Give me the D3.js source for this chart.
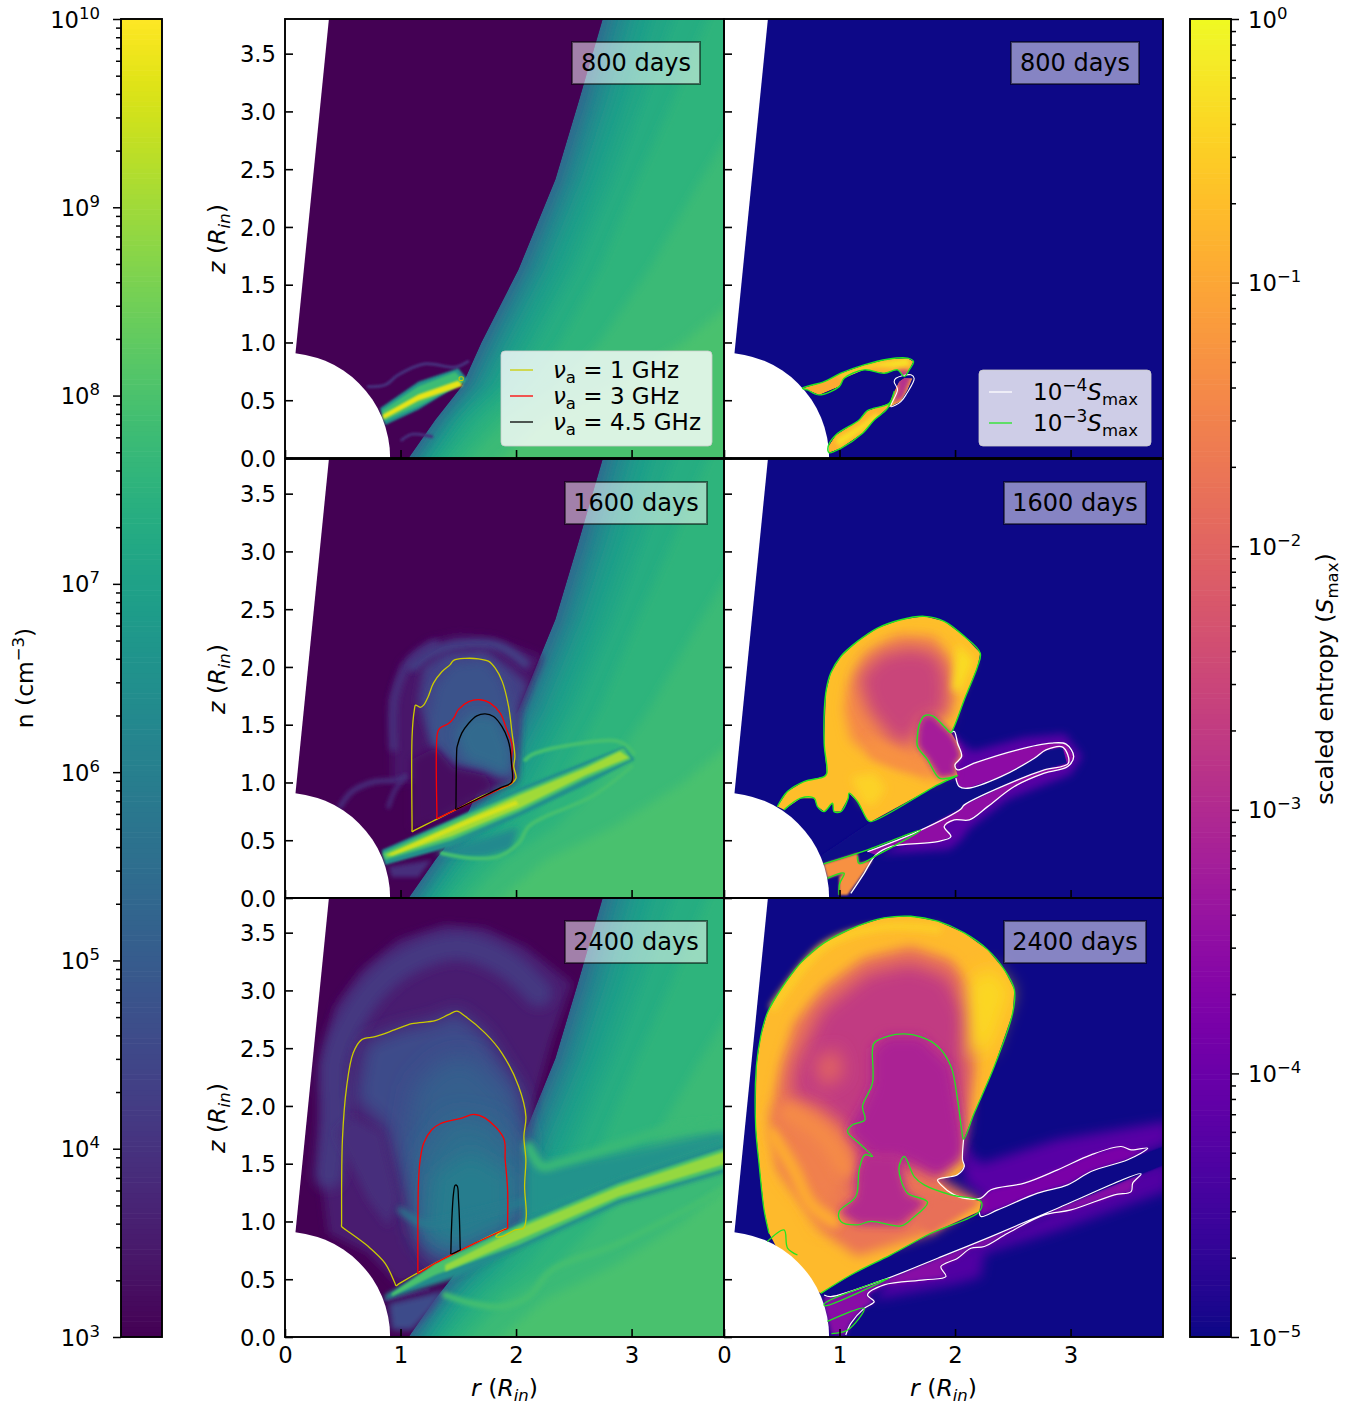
<!DOCTYPE html>
<html><head><meta charset="utf-8">
<script src="https://cdn.jsdelivr.net/npm/d3@7"></script>
<style>html,body{margin:0;background:#fff}svg{display:block}text{font-family:"DejaVu Sans";fill:#000}</style>
</head><body><svg id="c" width="1364" height="1408"></svg>
<script>
// ---------- labels and ticks ----------
const days=["800 days","1600 days","2400 days"];
const rTicks=[0,1,2,3];
const zTicks=[0,0.5,1,1.5,2,2.5,3,3.5];
const nDecades=[3,4,5,6,7,8,9,10];
const sDecades=[-5,-4,-3,-2,-1,0];
// ---------- shared geometry ----------
const innerRadius=0.91, polarSlope=0.1;
const ambientEdge=[[1.07,0],[1.30,.33],[1.53,.62],[1.70,1.0],[2.02,1.63],[2.34,2.41],[2.54,3.08],[2.75,3.8],[3.9,3.9],[3.9,-.1],[1.07,-.1]];
const ambientZ=[-.1,.33,.62,1,1.63,2.41,3.08,3.9];
const ambientLevels=[
 [5.8,[1.06,1.34,1.57,1.75,2.07,2.39,2.59,2.80]],
 [6.2,[1.10,1.38,1.62,1.80,2.12,2.44,2.65,2.87]],
 [6.6,[1.14,1.43,1.68,1.87,2.20,2.52,2.73,2.96]],
 [6.9,[1.18,1.48,1.75,1.95,2.28,2.60,2.82,3.06]],
 [7.15,[1.24,1.54,1.84,2.06,2.40,2.72,2.95,3.2]],
 [7.35,[1.30,1.62,1.94,2.18,2.52,2.85,3.1,3.4]],
 [7.55,[1.38,1.74,2.1,2.38,2.72,3.05,3.35,3.7]],
 [7.75,[1.5,1.9,2.35,2.72,3.15,3.6,4.0,4.5]],
 [7.95,[1.75,2.25,2.85,3.45,4.2,5.0,5.6,6.2]]
];
// ---------- 800 days, density ----------
const n1JetOuter=[[.823,.43],[1.155,.66],[1.5,.777],[1.58,.68],[1.155,.42],[.867,.286]];
const n1JetMid=[[.838,.41],[1.155,.62],[1.473,.745],[1.56,.66],[1.155,.45],[.86,.32]];
const n1JetCore=[[.843,.375],[1.155,.55],[1.50,.67],[1.54,.625],[1.155,.495],[.855,.335]];
const n1ArcUp=[[.722,.618],[.867,.633],[.982,.72],[1.213,.815],[1.473,.786],[1.583,.835]];
const n1ArcLow=[[1.01,.156],[1.1,.205],[1.27,.185]];
const nu1Dot=[[1.51,.70],[1.54,.70],[1.54,.675],[1.51,.675]];
// ---------- 1600 days, density ----------
const n2Shell=[[.93,.994],[.918,1.716],[1.011,2.033],[1.242,2.221],[1.5,2.279],[1.79,2.25],[2.022,2.163],[2.224,2.09],[2.022,1.6],[1.99,1.02],[1.473,.763],[1.27,.676],[1.155,1.02]];
const n2Ring=[[1.15,1.7],[1.2,2.0],[1.386,2.12],[1.733,2.14],[1.96,1.98],[2.1,1.85],[2.02,1.6],[1.99,1.02],[1.73,1.1],[1.3,1.3]];
const n2ArcC=[[.94,1.3],[.95,1.75],[1.1,2.07],[1.3,2.2]];
const n2ArcD=[[1.11,2.0],[1.27,2.12],[1.5,2.19],[1.85,2.18],[2.08,2.03]];
const n2Inner=[[1.242,1.54],[1.3,1.83],[1.444,2.033],[1.733,2.062],[1.877,1.889],[1.99,1.54],[1.964,1.05],[1.733,1.11],[1.473,1.138],[1.27,1.34]];
const n2Core=[[1.473,1.427],[1.617,1.6],[1.848,1.57],[1.964,1.254],[1.935,1.05],[1.733,1.138],[1.56,1.196]];
const n2Dark=[[1.1,.6],[1.1,1.2],[1.3,1.3],[1.45,1.12],[1.73,1.06],[1.8,.96],[1.27,.66]];
const n2JetOuter=[[.838,.416],[1.444,.682],[2.022,.95],[2.6,1.181],[2.932,1.311],[3.027,1.196],[2.6,.979],[2.022,.705],[1.444,.445],[.867,.286]];
const n2JetMid=[[.843,.387],[1.444,.665],[2.022,.915],[2.6,1.15],[2.93,1.30],[3.0,1.2],[2.6,1.03],[2.022,.745],[1.444,.5],[.867,.33]];
const n2JetCore=[[.867,.375],[1.444,.63],[2.022,.89],[2.6,1.125],[2.9,1.27],[2.98,1.215],[2.6,1.06],[2.022,.775],[1.444,.535],[.895,.36]];
const n2JetHot=[[.895,.375],[1.2,.51],[1.6,.685],[2.0,.845],[2.02,.81],[1.6,.645],[1.2,.475],[.93,.37]];
const n2BranchUp=[[2.08,1.196],[2.137,1.24],[2.484,1.326],[2.888,1.355],[3.02,1.254]];
const n2BranchLow=[[3.0,1.138],[2.657,.878],[2.253,.705],[2.108,.618],[2.022,.474],[1.848,.358],[1.617,.344],[1.358,.387]];
const n2Under=[[1.3,.387],[2.02,.61],[1.96,.42],[1.73,.36],[1.39,.36]];
const n2Foot=[[.895,.27],[1.27,.33],[1.155,.18],[.924,.18]];
const n2ArcA=[[.477,.79],[.578,.92],[.78,1.008],[.953,1.02],[1.04,1.05]];
const n2ArcB=[[.895,.79],[.953,.936],[1.04,1.05]];
// ---------- 2400 days, density ----------
const n3Shell=[[.303,1.476],[.318,2.343],[.433,2.862],[.664,3.18],[.982,3.44],[1.386,3.57],[1.733,3.541],[2.08,3.382],[2.484,3.065],[2.31,2.574],[2.094,1.794],[2.022,.898],[.982,.451],[.722,.725],[.375,.898]];
const n3Ring=[[.38,1.4],[.433,1.909],[.433,2.4],[.607,2.805],[.867,3.122],[1.213,3.325],[1.53,3.382],[1.906,3.238],[2.195,2.978]];
const n3Mid=[[.607,2.054],[.693,2.545],[.953,2.66],[1.3,2.738],[1.49,2.82],[1.733,2.63],[2.022,2.17],[2.085,1.765],[2.08,1.043],[1.935,.89],[1.3,.66],[1.155,.896],[.982,1.473],[.867,1.82]];
const n3Inner=[[1.127,2.17],[1.358,2.4],[1.617,2.43],[1.964,2.083],[2.065,1.765],[2.065,1.187],[1.906,.956],[1.3,.667],[1.155,1.187],[1.04,1.62]];
const n3Core=[[1.213,1.592],[1.444,1.909],[1.79,1.851],[2.022,1.534],[2.022,1.245],[1.906,.956],[1.386,.696],[1.155,.898],[1.155,1.245]];
const n3Teal=[[1.3,1.4],[1.6,1.6],[1.95,1.4],[1.95,1.0],[1.5,.8],[1.25,.9]];
const n3Dark=[[.433,1.765],[.578,1.909],[.838,1.765],[.982,1.187],[.895,.956],[.722,1.187],[.549,1.534]];
const n3Streak=[[1.0,1.1],[1.21,.98],[1.62,1.06],[2.14,1.19]];
const n3Wake=[[2.08,1.75],[2.25,1.5],[2.888,1.6],[3.85,1.8],[3.85,1.66],[2.6,1.2],[2.08,.98]];
const n3JetOuter=[[.867,.364],[1.3,.61],[2.022,.99],[2.888,1.37],[3.85,1.69],[3.85,1.44],[2.888,1.15],[2.022,.76],[1.444,.5],[.867,.32]];
const n3JetMid=[[.924,.378],[1.3,.638],[2.022,.97],[2.888,1.33],[3.85,1.65],[3.85,1.47],[2.888,1.187],[2.022,.797],[1.3,.537],[.924,.35]];
const n3JetCore=[[1.386,.624],[2.022,.942],[2.888,1.30],[3.85,1.62],[3.85,1.51],[2.888,1.216],[2.022,.84],[1.386,.566]];
const n3BranchUp=[[2.108,1.649],[2.224,1.476],[2.368,1.505],[2.888,1.664],[3.32,1.794],[3.85,1.84]];
const n3BranchLow=[[1.386,.364],[1.617,.292],[1.877,.263],[2.108,.35],[2.311,.58],[2.888,.81],[3.466,1.1],[3.85,1.31]];
const n3Foot=[[.895,.292],[1.386,.407],[1.27,.234],[1.1,.06],[.924,.06]];
const n3Strip=[[.867,.32],[1.242,.407]];
// ---------- radio photosphere contours ----------
const nu1_1600=[[1.10,.575],[1.10,.60],[1.10,1.40],[1.12,1.63],[1.13,1.67],[1.17,1.65],[1.20,1.67],[1.24,1.745],[1.285,1.86],[1.36,1.96],[1.43,2.02],[1.46,2.057],[1.56,2.074],[1.675,2.07],[1.76,2.05],[1.82,1.99],[1.88,1.875],[1.935,1.66],[1.965,1.43],[1.99,1.225],[1.98,1.14],[2.0,1.037],[1.965,.994],[1.85,.94],[1.70,.88],[1.47,.76],[1.27,.66],[1.12,.585]];
const nu3_1600=[[1.315,.69],[1.315,.72],[1.32,1.43],[1.34,1.47],[1.415,1.51],[1.46,1.557],[1.50,1.63],[1.59,1.70],[1.69,1.716],[1.776,1.687],[1.863,1.60],[1.92,1.456],[1.965,1.326],[1.96,1.196],[1.973,1.05],[1.965,1.0],[1.85,.94],[1.47,.76],[1.33,.695]];
const nu45_1600=[[1.48,.768],[1.48,.80],[1.487,1.29],[1.49,1.31],[1.53,1.427],[1.59,1.513],[1.66,1.577],[1.733,1.594],[1.805,1.571],[1.877,1.485],[1.93,1.37],[1.95,1.283],[1.96,1.167],[1.97,1.05],[1.96,1.0],[1.85,.947],[1.5,.775]];
const nu1_2400=[[.49,.956],[.49,.98],[.497,1.707],[.534,2.17],[.59,2.458],[.664,2.574],[.78,2.60],[.953,2.66],[1.098,2.712],[1.30,2.738],[1.415,2.79],[1.488,2.82],[1.56,2.776],[1.733,2.63],[1.877,2.458],[2.022,2.17],[2.085,1.91],[2.068,1.736],[2.085,1.534],[2.074,1.303],[2.088,1.043],[2.065,.942],[1.993,.927],[1.877,.87],[1.825,.87],[1.85,.898],[1.92,.942],[1.646,.812],[1.30,.638],[.985,.46],[.962,.445],[.95,.47],[.867,.638],[.722,.783],[.51,.94]];
const nu3_2400=[[1.15,.552],[1.15,.58],[1.155,1.332],[1.17,1.534],[1.2,1.678],[1.27,1.794],[1.343,1.846],[1.53,1.895],[1.632,1.927],[1.733,1.895],[1.892,1.722],[1.906,1.534],[1.927,1.274],[1.927,.97],[1.927,.942],[1.9,.93],[1.646,.812],[1.30,.638],[1.17,.56]];
const nu45_2400=[[1.436,.719],[1.436,.74],[1.444,1.014],[1.459,1.245],[1.473,1.314],[1.49,1.308],[1.502,1.187],[1.516,.78],[1.516,.754],[1.50,.745]];
// ---------- 800 days, entropy ----------
const s1Upper=[[.679,.604],[.867,.661],[1.011,.734],[1.213,.806],[1.415,.855],[1.589,.864],[1.64,.835],[1.603,.763],[1.56,.705],[1.502,.763],[1.386,.734],[1.213,.763],[1.04,.69],[.997,.618],[.823,.546],[.722,.589]];
const s1Lower=[[.901,.098],[.968,.2],[1.17,.329],[1.242,.41],[1.43,.474],[1.473,.575],[1.516,.661],[1.56,.69],[1.632,.69],[1.589,.589],[1.531,.488],[1.415,.43],[1.3,.329],[1.2,.214],[1.011,.084],[.91,.046]];
const s1Tip=[[1.5,.76],[1.6,.76],[1.62,.69],[1.55,.52],[1.46,.47],[1.5,.6]];
const s1Bright=[[1.0,.72],[1.3,.82],[1.589,.87],[1.62,.80],[1.5,.78],[1.3,.79],[1.0,.69]];
const s1BrightLow=[[.96,.16],[1.2,.3],[1.32,.39],[1.35,.36],[1.2,.24],[1.0,.1]];
const s1Loop=[[1.488,.69],[1.618,.72],[1.646,.69],[1.583,.56],[1.531,.488],[1.444,.445],[1.502,.59],[1.473,.66]];
// ---------- 1600 days, entropy ----------
const s2Front=[[.462,.791],[.549,.921],[.693,1.008],[.867,1.051],[.89,1.08],[.867,1.34],[.881,1.774],[.924,1.947],[1.011,2.091],[1.155,2.221],[1.329,2.337],[1.531,2.409],[1.733,2.438],[1.906,2.395],[2.08,2.265],[2.218,2.12],[2.195,2.005],[2.08,1.716],[1.993,1.485],[1.964,1.433]];
const s2Pocket=[[1.906,1.485],[1.805,1.577],[1.733,1.577],[1.69,1.499],[1.675,1.412],[1.675,1.311],[1.762,1.196],[1.863,1.037],[1.935,1.037],[2.022,1.06]];
const s2Tail=[[1.849,.979],[1.271,.661],[1.242,.676],[1.155,.835],[1.083,.907],[1.075,.864],[1.011,.748],[.953,.748],[.939,.82],[.867,.748],[.809,.791],[.78,.864],[.664,.864],[.52,.763]];
const s2Shoulder=[[2.022,1.34],[2.057,1.225],[1.999,1.152],[2.022,1.06]];
const s2Soft=[[1.069,1.83],[1.213,2.12],[1.502,2.28],[1.82,2.265],[1.993,2.005],[1.993,1.716],[1.906,1.514],[1.805,1.577],[1.69,1.499],[1.675,1.311],[1.863,1.037],[1.791,1.023],[1.502,1.138],[1.271,1.225],[1.098,1.369],[1.04,1.63]];
const s2Soul=[[1.155,1.918],[1.358,2.12],[1.617,2.178],[1.849,2.12],[1.935,1.918],[1.921,1.543],[1.805,1.577],[1.69,1.499],[1.661,1.34],[1.473,1.34],[1.242,1.629]];
const s2Warm=[[1.242,1.4],[1.444,1.311],[1.675,1.2],[1.82,1.066],[1.5,1.12],[1.27,1.22]];
const s2Rim=[[2.022,2.2],[2.16,2.06],[2.05,1.774],[1.97,1.8]];
const s2Glow=[[1.1,1.05],[1.3,1.08],[1.4,.95],[1.3,.8],[1.2,.82]];
const s2PocketFill=[[1.733,1.577],[1.805,1.577],[1.906,1.485],[1.964,1.433],[2.022,1.34],[2.057,1.225],[1.999,1.152],[2.022,1.06],[1.863,1.037],[1.762,1.196],[1.675,1.311],[1.675,1.412],[1.69,1.499]];
const s2WingUp=[[2.022,1.109],[2.166,1.167],[2.542,1.283],[2.831,1.34],[2.961,1.332],[3.027,1.225],[2.975,1.138],[2.932,1.306],[2.787,1.282],[2.686,1.21],[2.397,1.051],[2.108,.95],[2.036,.965],[2.007,1.037]];
const s2WingLow=[[2.975,1.138],[2.773,1.08],[2.513,.965],[2.282,.791],[2.123,.676],[1.993,.676],[1.906,.618],[1.964,.531],[1.849,.488],[1.444,.445],[1.314,.373],[1.242,.401],[1.675,.575],[2.051,.771],[2.08,.806],[2.542,1.023],[2.773,1.109],[2.981,1.167]];
const s2Slot=[[2.007,1.037],[2.036,.965],[2.108,.95],[2.397,1.051],[2.686,1.21],[2.787,1.282],[2.932,1.306],[2.981,1.167],[2.773,1.109],[2.542,1.023],[2.08,.806],[2.051,.771],[1.675,.575],[1.242,.401],[.86,.30],[.84,.37],[1.271,.661],[1.849,.979]];
const s2WhiteA=[[1.964,1.433],[1.993,1.441],[2.022,1.34],[2.057,1.225],[1.999,1.152],[2.022,1.109],[2.166,1.167],[2.542,1.283],[2.831,1.34],[2.961,1.332],[3.027,1.225],[2.975,1.138],[2.773,1.08],[2.513,.965],[2.282,.791],[2.123,.676],[1.993,.676],[1.906,.618],[1.964,.531],[1.849,.488],[1.444,.445],[1.314,.373],[1.213,.214],[1.098,.04]];
const s2WhiteB=[[2.007,1.037],[2.036,.965],[2.108,.95],[2.397,1.051],[2.686,1.21],[2.787,1.282],[2.932,1.306],[2.981,1.167],[2.773,1.109],[2.542,1.023],[2.08,.806],[2.051,.771],[1.675,.575],[1.242,.401]];
const s2Foot=[[.861,.295],[1.155,.387],[1.17,.3],[1.285,.329],[1.155,.142],[1.069,.026],[.997,.026],[.997,.185],[1.04,.214],[.895,.17]];
const s2FootLine=[[.861,.295],[1.242,.416],[1.704,.589],[1.329,.373],[1.17,.3],[1.155,.36]];
const s2FootLineB=[[.895,.17],[1.04,.214],[1.0,.12],[.997,.026]];
const s2Halo=[[1.96,1.42],[2.15,1.27],[2.6,1.39],[2.95,1.42],[3.1,1.225],[3.0,1.07],[2.45,.85],[2.12,.6],[2.05,.5],[1.95,.42],[1.35,.38],[1.8,.6],[2.0,1.0]];
// ---------- 2400 days, entropy ----------
const s3Front=[[.39,.898],[.347,1.1],[.303,1.505],[.274,1.823],[.28,2.343],[.318,2.602],[.375,2.805],[.491,3.007],[.664,3.238],[.867,3.411],[1.155,3.556],[1.386,3.628],[1.617,3.642],[1.849,3.599],[2.08,3.498],[2.282,3.353],[2.426,3.18],[2.513,3.007],[2.499,2.805],[2.34,2.343],[2.166,1.938],[2.074,1.713]];
const s3Pocket=[[2.057,1.794],[2.022,2.054],[1.964,2.343],[1.849,2.516],[1.704,2.597],[1.56,2.623],[1.415,2.602],[1.3,2.545],[1.285,2.487],[1.285,2.198],[1.199,1.996],[1.219,1.88],[1.112,1.837],[1.069,1.779],[1.184,1.664],[1.285,1.563],[1.219,1.577],[1.17,1.447],[1.141,1.216],[.997,1.086],[1.011,1.0],[1.155,.971],[1.271,1.0],[1.531,.962],[1.632,1.028],[1.762,1.167],[1.589,1.245],[1.531,1.36],[1.516,1.476],[1.56,1.563],[1.646,1.389],[1.733,1.317],[1.964,1.23],[2.224,1.173],[2.21,1.086],[1.791,.898],[1.444,.711],[1.098,.537],[.838,.378]];
const s3Body=[[.39,.898],[.347,1.1],[.303,1.505],[.274,1.823],[.28,2.343],[.318,2.602],[.375,2.805],[.491,3.007],[.664,3.238],[.867,3.411],[1.155,3.556],[1.386,3.628],[1.617,3.642],[1.849,3.599],[2.08,3.498],[2.282,3.353],[2.426,3.18],[2.513,3.007],[2.499,2.805],[2.34,2.343],[2.166,1.938],[2.074,1.713],[2.065,1.534],[2.08,1.476],[2.022,1.404],[1.849,1.36],[1.993,1.23],[2.224,1.173],[2.21,1.086],[1.791,.898],[1.444,.711],[1.098,.537],[.838,.378],[.6,.5]];
const s3Soft=[[.491,2.343],[.607,2.717],[.867,3.035],[1.213,3.281],[1.617,3.382],[1.964,3.266],[2.166,2.977],[2.195,2.487],[2.123,1.995],[2.065,1.72],[1.849,1.39],[2.224,1.173],[1.791,.898],[1.155,.696],[.867,.898],[.462,1.476],[.404,1.91]];
const s3Soul=[[.607,2.343],[.838,2.83],[1.242,3.151],[1.617,3.238],[1.935,3.122],[2.094,2.804],[2.08,2.343],[2.065,1.765],[1.849,1.39],[1.646,1.505],[1.242,1.245],[1.069,1.33],[1.098,1.765],[.838,1.995],[.578,2.083]];
const s3DeepA=[[1.285,2.487],[1.415,2.602],[1.704,2.597],[1.964,2.343],[2.057,1.794],[2.08,1.65],[2.065,1.534],[1.849,1.39],[1.646,1.5],[1.502,1.56],[1.285,1.563],[1.069,1.779],[1.199,1.996],[1.285,2.198]];
const s3DeepB=[[.997,1.086],[1.141,1.216],[1.17,1.447],[1.219,1.577],[1.53,1.563],[1.516,1.476],[1.589,1.245],[1.762,1.167],[1.531,.962],[1.155,.971]];
const s3RimRight=[[2.108,3.06],[2.31,3.21],[2.484,3.0],[2.31,2.51],[2.137,2.40]];
const s3RimTop=[[.433,2.86],[.867,3.38],[1.386,3.55],[1.849,3.53]];
const s3Warm=[[.433,1.94],[.607,2.0],[.982,1.77],[1.155,1.6],[.982,1.19],[.867,.92],[.722,1.19],[.52,1.43]];
const s3StreakA=[[.42,1.75],[.6,1.45],[.75,1.15],[.95,1.0]];
const s3StreakB=[[.55,1.95],[.85,1.75],[1.05,1.45]];
const s3Spot=[[.78,2.4],[.98,2.5],[1.04,2.27],[.85,2.15]];
const s3Toe=[[1.618,1.29],[2.224,1.173],[1.791,.898],[1.646,1.0],[1.776,1.17]];
const s3WingUp=[[2.224,1.202],[2.311,1.274],[2.6,1.332],[2.888,1.447],[3.177,1.577],[3.437,1.649],[3.524,1.62],[3.668,1.635],[3.495,1.534],[3.177,1.433],[2.975,1.317],[2.715,1.245],[2.369,1.1],[2.224,1.043],[2.21,1.086]];
const s3WingLow=[[3.61,1.412],[3.538,1.332],[3.524,1.259],[3.38,1.23],[3.004,1.1],[2.773,1.057],[2.455,.898],[2.253,.783],[2.137,.768],[2.022,.682],[1.877,.609],[1.921,.523],[1.733,.494],[1.386,.451],[1.242,.364],[1.3,.306],[1.213,.248],[1.098,.118],[1.054,.017],[.93,.02],[.867,.25],[.867,.364],[.924,.35],[1.415,.508],[1.849,.682],[2.311,.869],[2.888,1.115]];
const s3HaloUp=[[2.08,1.65],[2.224,1.5],[2.888,1.71],[3.85,1.87],[3.85,1.67],[3.495,1.534],[3.177,1.433],[2.975,1.317],[2.369,1.1],[2.08,1.35]];
const s3HaloLow=[[3.85,1.53],[3.52,1.43],[2.888,1.115],[2.311,.869],[1.415,.508],[1.3,.32],[2.022,.46],[2.224,.52],[2.253,.72],[2.888,.92],[3.85,1.27]];
const s3Slot=[[3.85,1.66],[3.495,1.534],[3.177,1.433],[2.975,1.317],[2.715,1.245],[2.369,1.1],[2.224,1.043],[1.791,.898],[1.444,.711],[1.098,.537],[.838,.378],[.867,.364],[.924,.35],[1.415,.508],[1.849,.682],[2.311,.869],[2.888,1.115],[3.61,1.412],[3.85,1.51]];
const s3WhiteA=[[2.074,1.713],[2.065,1.534],[2.08,1.476],[2.022,1.404],[1.849,1.36],[1.878,1.317],[1.993,1.23],[2.137,1.193],[2.224,1.202],[2.311,1.274],[2.6,1.332],[2.888,1.447],[3.177,1.577],[3.437,1.649],[3.524,1.62],[3.668,1.635],[3.495,1.534],[3.177,1.433],[2.975,1.317],[2.715,1.245],[2.369,1.1],[2.224,1.043],[2.21,1.086]];
const s3WhiteB=[[.867,.364],[.924,.35],[1.415,.508],[1.849,.682],[2.311,.869],[2.888,1.115],[3.61,1.412],[3.538,1.332],[3.524,1.259],[3.38,1.23],[3.004,1.1],[2.773,1.057],[2.455,.898],[2.253,.783],[2.137,.768],[2.022,.682],[1.877,.609],[1.921,.523],[1.733,.494],[1.386,.451],[1.242,.364],[1.3,.306],[1.213,.248],[1.098,.118],[1.054,.017]];
const s3GreenA=[[.87,.29],[1.43,.51],[.87,.27]];
const s3GreenB=[[.895,.135],[1.213,.248],[1.07,.06],[.93,.03]];
const s3Spike=[[.375,.826],[.52,.927],[.55,.77],[.636,.71]];

// ---------- scales ----------
const svg=d3.select("#c");
const colN=d3.scaleSequential(d3.interpolateViridis).domain([3,10]);
const colS=d3.scaleSequential(d3.interpolatePlasma).domain([-5,0]);
const GREEN="#22e622";
const cols=[285,724], rows=[19,459,898], pw=439, ph=439;
const defs=svg.append("defs");
[1,2,3,4,5,6,9,12].forEach(b=>defs.append("filter").attr("id","b"+b).attr("filterUnits","userSpaceOnUse")
  .attr("x",0).attr("y",0).attr("width",1364).attr("height",1408)
  .append("feGaussianBlur").attr("stdDeviation",b));

function panel(ci,ri){
  const x=d3.scaleLinear([0,3.8],[cols[ci],cols[ci]+pw]);
  const y=d3.scaleLinear([0,3.8],[rows[ri]+ph,rows[ri]]);
  const id=`p${ci}${ri}`;
  defs.append("clipPath").attr("id",id).append("rect").attr("x",cols[ci]).attr("y",rows[ri]).attr("width",pw).attr("height",ph);
  const g=svg.append("g").attr("clip-path",`url(#${id})`);
  const closed=d3.line().x(d=>x(d[0])).y(d=>y(d[1])).curve(d3.curveLinearClosed);
  const soft=d3.line().x(d=>x(d[0])).y(d=>y(d[1])).curve(d3.curveCatmullRomClosed.alpha(.5));
  const open=d3.line().x(d=>x(d[0])).y(d=>y(d[1])).curve(d3.curveCatmullRom.alpha(.5));
  const fill=(pts,c,b,par)=>{(par||g).append("path").attr("d",closed(pts)).attr("fill",c).attr("filter",b?`url(#b${b})`:null)};
  const band=(pts,c,w,b,par)=>{(par||g).append("path").attr("d",open(pts)).attr("fill","none").attr("stroke",c).attr("stroke-width",w).attr("filter",b?`url(#b${b})`:null).attr("stroke-linecap","round")};
  const clipTo=(pts,name)=>{defs.append("clipPath").attr("id",name).append("path").attr("d",closed(pts));return g.append("g").attr("clip-path",`url(#${name})`)};
  const line=(pts,c,w,isClosed)=>g.append("path").attr("d",(isClosed?soft:open)(pts)).attr("fill","none").attr("stroke",c).attr("stroke-width",w);
  return {x,y,g,fill,band,clipTo,line,ci,ri};
}
function ambient(p){
  const a=p.clipTo(ambientEdge,"amb"+p.ri);
  p.fill(ambientEdge,colN(5.4),0,a);
  ambientLevels.forEach(([v,rs])=>{
    const pts=rs.map((r,i)=>[r,ambientZ[i]]);
    p.fill(pts.concat([[7,3.9],[7,-.2]]),colN(v),5,a);
  });
}
function overlays(p){
  const x0=p.x(0), y0=p.y(0), rad=p.x(innerRadius)-p.x(0);
  const white=d3.line().x(d=>p.x(d[0])).y(d=>p.y(d[1])).curve(d3.curveLinearClosed)([[0,0],[polarSlope*3.9,3.9],[-.1,3.9],[-.1,0]]);
  p.g.append("path").attr("d",white).attr("fill","#fff");
  p.g.append("path").attr("transform",`translate(${x0},${y0})`).attr("d",d3.arc()({innerRadius:0,outerRadius:rad,startAngle:0,endAngle:Math.PI/2})).attr("fill","#fff");
}
// ---------- density panels ----------
const L=[panel(0,0),panel(0,1),panel(0,2)];
L.forEach(p=>{p.g.append("rect").attr("x",p.x(0)).attr("y",p.y(3.8)).attr("width",pw).attr("height",ph).attr("fill",colN(3));ambient(p);});
{const p=L[0];
 p.band(n1ArcUp,colN(4.0),3,1);p.band(n1ArcLow,colN(3.9),3,1);
 p.fill(n1JetOuter,colN(6.6),1);p.fill(n1JetMid,colN(7.8),1);p.fill(n1JetCore,colN(9.75),1);
}
{const p=L[1];
 p.fill(n2Shell,colN(3.45),4);
 p.band(n2ArcC,colN(4.0),8,3);p.band(n2ArcD,colN(4.3),9,3);
 p.fill(n2Ring,colN(4.3),4);
 p.band(n2ArcA,colN(3.9),5,2);p.band(n2ArcB,colN(3.9),4,2);
 p.fill(n2Inner,colN(4.8),6);p.fill(n2Core,colN(5.4),6);p.fill(n2Dark,colN(3.25),4);
 p.fill(n2Foot,colN(3.9),2);
 p.fill(n2Under,colN(6.3),3);
 p.band(n2BranchUp,colN(7.9),4,1);p.band(n2BranchLow,colN(7.9),4,1);
 p.fill(n2JetOuter,colN(6.5),1);p.fill(n2JetMid,colN(8.0),1);p.fill(n2JetCore,colN(9.0),1);p.fill(n2JetHot,colN(9.55),1);
}
{const p=L[2];
 p.fill(n3Shell,colN(3.55),4);p.band(n3Ring,colN(4.1),28,6);
 p.fill(n3Mid,colN(4.6),9);p.fill(n3Inner,colN(5.1),12);p.fill(n3Core,colN(5.5),12);p.fill(n3Teal,colN(5.95),9);p.fill(n3Dark,colN(3.9),4);
 p.band(n3Streak,colN(5.9),6,3);
 p.fill(n3Foot,colN(4.6),3);p.band(n3Strip,colN(3.6),3,1);
 p.fill(n3Wake,colN(6.6),6);
 p.band(n3BranchUp,colN(7.75),9,3);p.band(n3BranchLow,colN(7.9),6,2);
 p.fill(n3JetOuter,colN(6.4),2);p.fill(n3JetMid,colN(8.0),1);p.fill(n3JetCore,colN(8.9),1);
}
L.forEach(overlays);
L[0].line(nu1Dot,"#cccc00",1.1,true);
[[nu1_1600,nu3_1600,nu45_1600],[nu1_2400,nu3_2400,nu45_2400]].forEach((s,i)=>{
  const p=L[i+1];
  p.line(s[0],"#cccc00",1.3,true);p.line(s[1],"#ff0000",1.3,true);p.line(s[2],"#000",1.3,true);
});
// ---------- entropy panels ----------
const R=[panel(1,0),panel(1,1),panel(1,2)];
R.forEach(p=>p.g.append("rect").attr("x",p.x(0)).attr("y",p.y(3.8)).attr("width",pw).attr("height",ph).attr("fill",colS(-5)));
{const p=R[0];
 const a=p.clipTo(s1Upper,"u1"), b=p.clipTo(s1Lower,"l1");
 p.fill(s1Upper,colS(-.95),0,a);p.fill(s1Bright,colS(-.3),2,a);p.fill(s1Tip,colS(-2.8),2,a);
 p.fill(s1Lower,colS(-.85),0,b);p.fill(s1BrightLow,colS(-.3),2,b);p.fill(s1Tip,colS(-2.9),2,b);
 overlays(p);
 p.line(s1Loop,"#fff",1.1,true);
 p.line(s1Upper,GREEN,1.4,true);p.line(s1Lower.slice(0,6).concat(s1Lower.slice(11)),GREEN,1.4,true);
}
{const p=R[1];
 const body=s2Front.concat(s2Shoulder,s2Tail);
 p.fill(s2Halo,colS(-4.2),4);
 p.fill(s2Slot,colS(-5),1);
 p.fill(s2WingUp,colS(-3.55),0);p.fill(s2WingLow,colS(-3.5),0);
 const a=p.clipTo(body,"b2");
 p.fill(body,colS(-.7),0,a);
 p.fill(s2Soft,colS(-1.4),6,a);p.fill(s2Soul,colS(-2.55),9,a);
 p.fill(s2Warm,colS(-1.3),4,a);p.fill(s2Glow,colS(-.45),4,a);p.fill(s2Rim,colS(-.35),4,a);
 p.fill(s2PocketFill,colS(-3.2),3,a);
 p.fill(s2Foot,colS(-1.3),1);
 overlays(p);
 p.line(s2WhiteA,"#fff",1.3);p.line(s2WhiteB,"#fff",1.3);
 p.line(s2Front.concat(s2Pocket,s2Tail),GREEN,1.4);
 p.line(s2FootLine,GREEN,1.4);p.line(s2FootLineB,GREEN,1.4);
}
{const p=R[2];
 p.fill(s3HaloUp,colS(-4.2),6);p.fill(s3HaloLow,colS(-4.3),6);
 p.fill(s3Slot,colS(-5),1);
 p.fill(s3WingUp,colS(-3.8),2);p.fill(s3WingLow,colS(-3.6),2);
 p.fill(s3Slot,colS(-5),0);
 const a=p.clipTo(s3Body,"b3");
 p.fill(s3Body,colS(-.75),0,a);
 p.fill(s3Soft,colS(-1.7),6,a);p.fill(s3Soul,colS(-2.7),9,a);
 p.fill(s3Warm,colS(-1.55),9,a);
 p.band(s3StreakA,colS(-.95),14,4,a);p.band(s3StreakB,colS(-1.4),16,6,a);
 p.fill(s3Spot,colS(-2.0),9,a);
 p.fill(s3RimRight,colS(-.4),9,a);p.band(s3RimTop,colS(-.5),8,3,a);
 p.fill(s3DeepA,colS(-3.1),6,a);p.fill(s3DeepB,colS(-2.95),4,a);
 p.fill(s3Toe,colS(-1.8),3,a);
 overlays(p);
 p.line(s3WhiteA,"#fff",1.2);p.line(s3WhiteB,"#fff",1.2);
 p.line(s3Front.concat(s3Pocket),GREEN,1.3);
 p.line(s3GreenA,GREEN,1.3,true);p.line(s3GreenB,GREEN,1.3);p.line(s3Spike,GREEN,1.3);
}
// ---------- frames, axes ----------
function frame(p){
  const gx=svg.append("g").attr("transform",`translate(0,${p.y(0)})`)
    .call(d3.axisBottom(p.x).tickValues(rTicks).tickSize(-8).tickPadding(10).tickFormat(p.ri===2?d3.format("d"):""));
  const gy=svg.append("g").attr("transform",`translate(${p.x(0)},0)`)
    .call(d3.axisLeft(p.y).tickValues(zTicks).tickSize(-8).tickPadding(9).tickFormat(p.ci===0?d3.format(".1f"):""));
  [gx,gy].forEach(a=>{a.select(".domain").remove();a.selectAll("line").attr("stroke","#000").attr("stroke-width",1.6);
    a.selectAll("text").attr("font-size",22.7).attr("font-family","DejaVu Sans");});
  gy.selectAll("text").attr("dy","0.36em");
  svg.append("rect").attr("x",p.x(0)).attr("y",p.y(3.8)).attr("width",pw).attr("height",ph).attr("fill","none").attr("stroke","#000").attr("stroke-width",1.9);
  const l=p.ri===0?128:142, right=p.x(3.8)-(p.ri===0?24:17), top=p.y(3.8)+23;
  svg.append("rect").attr("x",right-l).attr("y",top).attr("width",l).attr("height",42)
    .attr("fill","#fff").attr("fill-opacity",.5).attr("stroke","#000").attr("stroke-opacity",.5).attr("stroke-width",2);
  svg.append("text").attr("x",right-l/2).attr("y",top+29).attr("text-anchor","middle").attr("font-size",24).text(days[p.ri]);
}
L.concat(R).forEach(frame);
function mathLabel(sel,parts){parts.forEach(([t,o])=>{const s=sel.append("tspan").text(t);Object.entries(o||{}).forEach(([k,v])=>s.attr(k,v));});return sel;}
const it={"font-style":"italic"};
[285,724].forEach(x0=>mathLabel(svg.append("text").attr("x",x0+219.5).attr("y",1396).attr("text-anchor","middle").attr("font-size",23.6),
  [["r",it],[" ("],["R",it],["in",{...it,"font-size":16.5,dy:5}],[")",{dy:-5}]]));
rows.forEach(y0=>mathLabel(svg.append("text").attr("transform",`translate(225,${y0+220}) rotate(-90)`).attr("text-anchor","middle").attr("font-size",23.6),
  [["z",it],[" ("],["R",it],["in",{...it,"font-size":16.5,dy:5}],[")",{dy:-5}]]));
// ---------- legends ----------
function legend(x,y,w,h,lineX,textX,items){
  svg.append("rect").attr("x",x).attr("y",y).attr("width",w).attr("height",h).attr("rx",4)
    .attr("fill","#fff").attr("fill-opacity",.8).attr("stroke","#ccc").attr("stroke-opacity",.8);
  items.forEach(it2=>{
    svg.append("line").attr("x1",lineX).attr("x2",lineX+23).attr("y1",it2.y).attr("y2",it2.y).attr("stroke",it2.c).attr("stroke-width",1.3);
    mathLabel(svg.append("text").attr("x",textX).attr("y",it2.y+8).attr("font-size",23),it2.parts);
  });
}
const sub={"font-size":16.5,dy:5};
legend(501,351,211,95,510,553,[
 {y:370,c:"#cccc00",parts:[["ν",it],["a",sub],[" = 1 GHz",{dy:-5}]]},
 {y:396,c:"#ff0000",parts:[["ν",it],["a",sub],[" = 3 GHz",{dy:-5}]]},
 {y:422,c:"#000000",parts:[["ν",it],["a",sub],[" = 4.5 GHz",{dy:-5}]]}]);
legend(979,370,172,76,989,1033,[
 {y:392,c:"#ffffff",parts:[["10"],["−4",{"font-size":17,dy:-9}],["S",{...it,dy:9}],["max",sub]]},
 {y:423,c:GREEN,parts:[["10"],["−3",{"font-size":17,dy:-9}],["S",{...it,dy:9}],["max",sub]]}]);
// ---------- colour bars ----------
function colourbar(x,w,decades,interp,left){
  const [a,b]=d3.extent(decades);
  const sc=d3.scaleLog([10**a,10**b],[1337,19]);
  const g=svg.append("g");
  const idx=d3.range(256);
  const band=d3.scaleBand(idx,[1337,19]);
  g.selectAll("rect").data(idx).join("rect").attr("x",x).attr("width",w).attr("y",i=>band(i)-.3).attr("height",band.bandwidth()+.6).attr("fill",i=>interp(i/255));
  const minor=[];
  decades.slice(0,-1).forEach(d=>d3.range(2,10).forEach(k=>minor.push(k*10**d)));
  const side=left?d3.axisLeft:d3.axisRight;
  const tx=left?x:x+w;
  const ga=svg.append("g").attr("transform",`translate(${tx},0)`).call(side(sc).tickValues(minor).tickSize(5).tickFormat(""));
  const gb=svg.append("g").attr("transform",`translate(${tx},0)`).call(side(sc).tickValues(decades.map(d=>10**d)).tickSize(8).tickPadding(left?13:9).tickFormat(""));
  [ga,gb].forEach(s=>{s.select(".domain").remove();s.selectAll("line").attr("stroke","#000").attr("stroke-width",1.5);});
  gb.selectAll("text").attr("font-size",22.7).attr("font-family","DejaVu Sans").attr("dy",null).each(function(d){
    const t=d3.select(this).attr("y",8);
    t.append("tspan").text("10");
    t.append("tspan").attr("dy",-9).attr("font-size",16.5).text(String(Math.round(Math.log10(d))).replace("-","−"));
  });
  svg.append("rect").attr("x",x).attr("y",19).attr("width",w).attr("height",1318).attr("fill","none").attr("stroke","#000").attr("stroke-width",1.9);
}
colourbar(121,41,nDecades,d3.interpolateViridis,true);
colourbar(1190,41,sDecades,d3.interpolatePlasma,false);
mathLabel(svg.append("text").attr("transform","translate(33,678) rotate(-90)").attr("text-anchor","middle").attr("font-size",23.4),
  [["n (cm"],["−3",{"font-size":16.5,dy:-9}],[")",{dy:9}]]);
mathLabel(svg.append("text").attr("transform","translate(1333,679) rotate(-90)").attr("text-anchor","middle").attr("font-size",23.6),
  [["scaled entropy ("],["S",it],["max",{"font-size":16.5,dy:5}],[")",{dy:-5}]]);
</script></body></html>
